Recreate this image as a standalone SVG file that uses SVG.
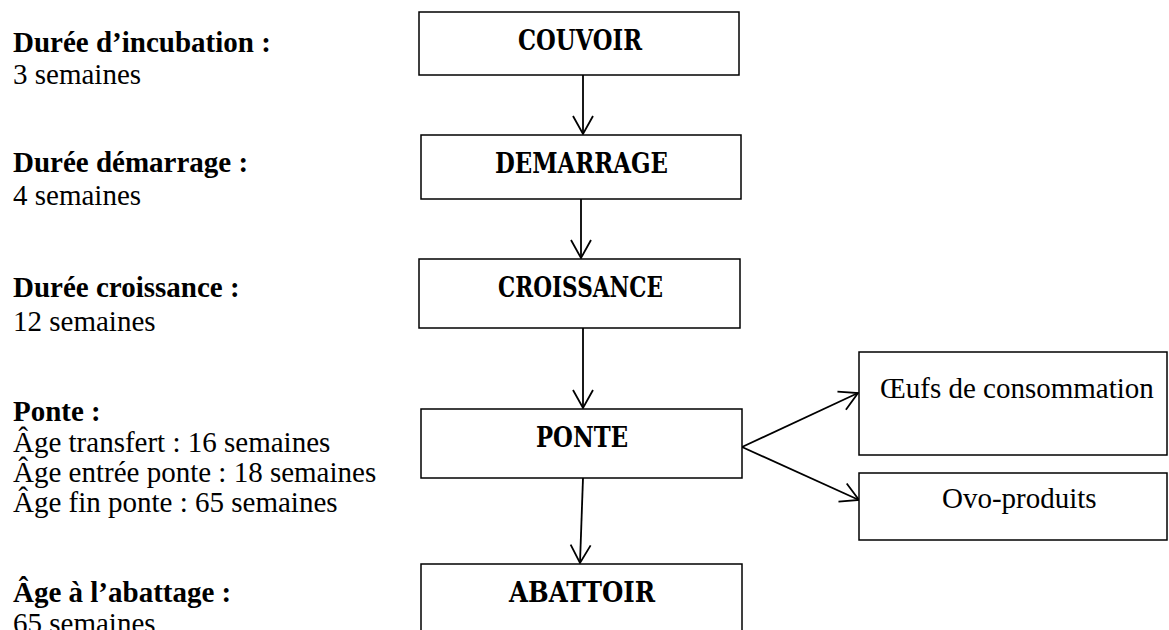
<svg xmlns="http://www.w3.org/2000/svg" width="1169" height="630" viewBox="0 0 1169 630">
  <defs>
    <style>
      .box { fill: #ffffff; stroke: #000000; stroke-width: 1.5; }
      .title { font-family: "DejaVu Serif", "Liberation Serif", serif; font-weight: bold; font-size: 27px; fill: #000; text-anchor: middle; }
      .label { font-family: "Liberation Serif", "Times New Roman", serif; font-size: 29px; fill: #000; }
      .head { font-weight: bold; }
      .conn { stroke: #000; stroke-width: 1.8; fill: none; marker-end: url(#arrow); }
    </style>
    <marker id="arrow" viewBox="-20 -12 22 24" markerWidth="22" markerHeight="24" refX="0" refY="0" orient="auto" markerUnits="userSpaceOnUse">
      <path d="M-18,-10 L0,0 L-18,10" fill="none" stroke="#000" stroke-width="1.8"/>
    </marker>
  </defs>

  <rect width="1169" height="630" fill="#ffffff"/>

  <!-- Left column: durations and ages -->
  <g id="notes" class="label">
    <text x="13" y="52" class="head">Durée d’incubation :</text>
    <text x="13" y="84">3 semaines</text>
    <text x="13" y="172" class="head">Durée démarrage :</text>
    <text x="13" y="205">4 semaines</text>
    <text x="13" y="297" class="head">Durée croissance :</text>
    <text x="13" y="331">12 semaines</text>
    <text x="13" y="421" class="head">Ponte :</text>
    <text x="13" y="452">Âge transfert : 16 semaines</text>
    <text x="13" y="482">Âge entrée ponte : 18 semaines</text>
    <text x="13" y="512">Âge fin ponte : 65 semaines</text>
    <text x="13" y="602" class="head">Âge à l’abattage :</text>
    <text x="13" y="633">65 semaines</text>
  </g>

  <!-- Connectors -->
  <g id="connectors">
    <line class="conn" x1="583" y1="75" x2="583" y2="134"/>
    <line class="conn" x1="581" y1="199" x2="581" y2="258"/>
    <line class="conn" x1="583" y1="328" x2="583" y2="408"/>
    <line class="conn" x1="583" y1="478" x2="580" y2="563"/>
    <line class="conn" x1="742" y1="447" x2="858" y2="393"/>
    <line class="conn" x1="742" y1="447" x2="859" y2="500"/>
  </g>

  <!-- Production stages -->
  <g id="couvoir">
    <rect class="box" x="419" y="12" width="320" height="63"/>
    <text class="title" x="580" y="50" textLength="124" lengthAdjust="spacingAndGlyphs">COUVOIR</text>
  </g>
  <g id="demarrage">
    <rect class="box" x="421" y="135" width="320" height="64"/>
    <text class="title" x="581.5" y="173" textLength="173" lengthAdjust="spacingAndGlyphs">DEMARRAGE</text>
  </g>
  <g id="croissance">
    <rect class="box" x="419" y="259" width="321" height="69"/>
    <text class="title" x="580.5" y="297" textLength="165" lengthAdjust="spacingAndGlyphs">CROISSANCE</text>
  </g>
  <g id="ponte">
    <rect class="box" x="421" y="409" width="321" height="69"/>
    <text class="title" x="582" y="447" textLength="92" lengthAdjust="spacingAndGlyphs">PONTE</text>
  </g>
  <g id="abattoir">
    <rect class="box" x="421" y="564" width="321" height="80"/>
    <text class="title" x="582" y="602" textLength="146" lengthAdjust="spacingAndGlyphs">ABATTOIR</text>
  </g>

  <!-- Outputs of the laying stage -->
  <g id="oeufs">
    <rect class="box" x="859" y="352" width="308" height="103"/>
    <text class="label" x="880" y="398">Œufs de consommation</text>
  </g>
  <g id="ovoproduits">
    <rect class="box" x="859" y="473" width="308" height="67"/>
    <text class="label" x="942" y="508">Ovo-produits</text>
  </g>
</svg>
